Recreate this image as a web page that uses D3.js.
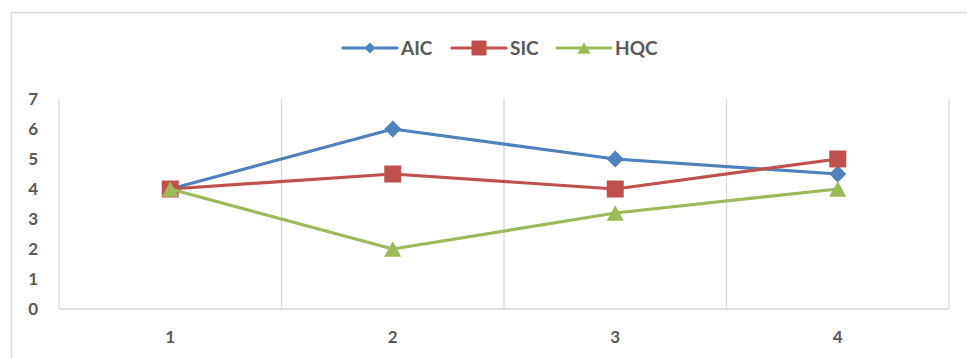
<!DOCTYPE html>
<html>
<head>
<meta charset="utf-8">
<script src="https://cdn.jsdelivr.net/npm/d3@7"></script>
<style>
  html, body { margin: 0; padding: 0; background: #fff; }
  svg { display: block; font-family: "Lato", "Open Sans", sans-serif; font-weight: bold; }
</style>
</head>
<body>
<svg id="chart" width="967" height="358"></svg>
<script>
const categories = ["1", "2", "3", "4"];
const yTicks = [0, 1, 2, 3, 4, 5, 6, 7];
const aic = [4, 6, 5, 4.5];
const sic = [4, 4.5, 4, 5];
const hqc = [4, 2, 3.2, 4];

const series = [
  { name: "AIC", values: aic, color: "#4F81BD", marker: "diamond", size: 17 },
  { name: "SIC", values: sic, color: "#C0504D", marker: "square", size: 17 },
  { name: "HQC", values: hqc, color: "#9BBB59", marker: "triangle", size: 17 }
];

// Marker outline of a given width, centred on the origin
function markerPath(type, w) {
  const h = w / 2;
  if (type === "diamond") return `M0,${-h}L${h},0L0,${h}L${-h},0Z`;
  if (type === "square") return `M${-h},${-h}H${h}V${h}H${-h}Z`;
  const th = w * 0.9;
  return `M0,${-th / 2}L${h},${th / 2}L${-h},${th / 2}Z`;
}

const W = 967, H = 358;
const plot = { left: 59, right: 949, top: 99, bottom: 309 };
const svg = d3.select("#chart");
const grid = "#D9D9D9";
const textColor = "#595959";

// Chart frame
svg.append("rect")
  .attr("x", 11.5).attr("y", 12.5)
  .attr("width", W + 20).attr("height", H + 20)
  .attr("fill", "none").attr("stroke", grid).attr("stroke-width", 1.5);

const x = d3.scaleBand().domain(categories).range([plot.left, plot.right]).padding(0);
const y = d3.scaleLinear().domain([0, 7]).range([plot.bottom, plot.top]);

// Vertical gridlines on category boundaries
const bounds = categories.map(c => x(c)).concat([x(categories[categories.length - 1]) + x.bandwidth()]);
svg.append("g").selectAll("line").data(bounds).join("line")
  .attr("x1", d => d).attr("x2", d => d)
  .attr("y1", plot.top).attr("y2", plot.bottom)
  .attr("stroke", grid).attr("stroke-width", 1.3);

// Category axis
svg.append("line")
  .attr("x1", plot.left).attr("x2", plot.right)
  .attr("y1", plot.bottom).attr("y2", plot.bottom)
  .attr("stroke", grid).attr("stroke-width", 1.5);

const xAxis = d3.axisBottom(x).tickSize(0).tickPadding(0);
svg.append("g")
  .attr("transform", `translate(0,${plot.bottom + 28})`)
  .call(xAxis)
  .call(g => g.select(".domain").remove())
  .selectAll("text")
  .attr("fill", textColor).attr("font-size", 17).attr("font-family", "Lato, sans-serif")
  .attr("font-weight", "bold").attr("dy", "0.35em");

// Value axis labels
const yAxis = d3.axisLeft(y).tickValues(yTicks).tickFormat(d3.format("d")).tickSize(0).tickPadding(0);
svg.append("g")
  .attr("transform", `translate(38,0)`)
  .call(yAxis)
  .call(g => g.select(".domain").remove())
  .selectAll("text")
  .attr("fill", textColor).attr("font-size", 17).attr("font-family", "Lato, sans-serif")
  .attr("font-weight", "bold");

// Series lines and markers
const line = d3.line().x((d, i) => x(categories[i]) + x.bandwidth() / 2).y(d => y(d));
series.forEach(s => {
  svg.append("path")
    .attr("d", line(s.values))
    .attr("fill", "none").attr("stroke", s.color)
    .attr("stroke-width", 3.2).attr("stroke-linejoin", "round").attr("stroke-linecap", "round");
  svg.append("g").selectAll("path").data(s.values).join("path")
    .attr("transform", (d, i) => `translate(${x(categories[i]) + x.bandwidth() / 2},${y(d)})`)
    .attr("d", markerPath(s.marker, s.size))
    .attr("fill", s.color);
});

// Legend
const legendY = 48;
const legendItems = [
  { s: series[0], x0: 343, tx: 401, ms: 11 },
  { s: series[1], x0: 452, tx: 510, ms: 15 },
  { s: series[2], x0: 557, tx: 615, ms: 13 }
];
const lg = svg.append("g");
legendItems.forEach(it => {
  lg.append("line")
    .attr("x1", it.x0).attr("x2", it.x0 + 54)
    .attr("y1", legendY).attr("y2", legendY)
    .attr("stroke", it.s.color).attr("stroke-width", 3.2).attr("stroke-linecap", "round");
  lg.append("path")
    .attr("transform", `translate(${it.x0 + 27},${legendY})`)
    .attr("d", markerPath(it.s.marker, it.ms))
    .attr("fill", it.s.color);
  lg.append("text")
    .attr("x", it.tx).attr("y", legendY).attr("dy", "0.35em")
    .attr("fill", textColor).attr("font-size", 19)
    .text(it.s.name);
});
</script>
</body>
</html>
